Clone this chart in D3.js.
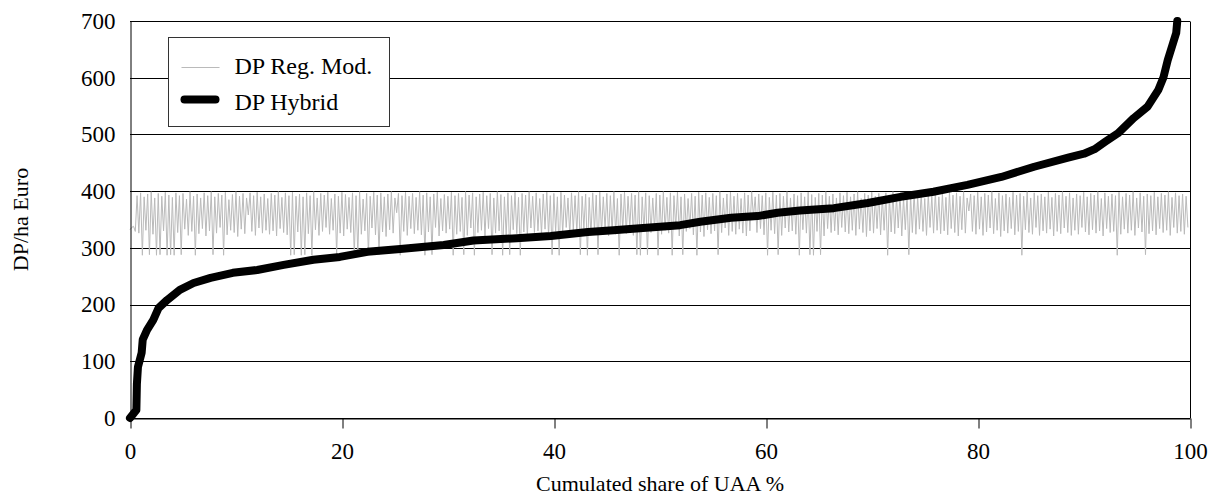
<!DOCTYPE html>
<html>
<head>
<meta charset="utf-8">
<script src="https://cdnjs.cloudflare.com/ajax/libs/d3/7.8.5/d3.min.js"></script>
<style>
body { margin: 0; background: #fff; }
text { font-family: "Liberation Serif", "Times New Roman", serif; fill: #000; }
.tick text { font-size: 23px; }
.label { font-size: 22px; }
.legend text { font-size: 24px; }
</style>
</head>
<body>
<div id="chart"></div>
<script>
// y tick values and x tick values
var yTicks = [0, 100, 200, 300, 400, 500, 600, 700];
var xTicks = [0, 20, 40, 60, 80, 100];

// DP Hybrid (sorted) - cumulated share of UAA % / DP per ha
var hybridX = [0, 0.6, 0.65, 0.75, 1.1, 1.2, 1.6, 2.2, 2.7, 3.5, 4.7, 6.0, 7.6, 9.7, 12.0, 14.5, 17.3, 19.8, 22.4, 25.5,
  29.6, 32.4, 36.5, 39.7, 43.2, 45.6, 48.4, 51.9, 53.8, 56.7, 59.2, 61.1, 63.2, 66.4, 69.6, 72.7, 75.8, 79.0, 82.2, 85.3,
  88.5, 90.0, 91.0, 92.0, 93.2, 94.7, 96.0, 97.0, 97.5, 97.9, 98.4, 98.7, 98.8];
var hybridY = [0, 14, 60, 90, 115, 138, 155, 173, 194, 208, 226, 238, 247, 256, 261, 270, 279, 284, 293, 298,
  305, 313, 317, 321, 328, 331, 335, 340, 346, 353, 356, 362, 366, 370, 379, 390, 399, 411, 425, 443,
  459, 466, 474, 487, 502, 529, 549, 578, 601, 631, 661, 679, 700];

// DP Reg. Mod. - same farms
var regMod = [
  332, 336, 338, 329, 392, 326, 397, 287, 390, 331, 395, 288, 399, 324, 388, 287, 396, 288, 391, 330,
  398, 287, 393, 288, 389, 287, 397, 327, 392, 288, 396, 333, 386, 322, 399, 329, 391, 287, 395, 325,
  388, 334, 397, 321, 392, 330, 399, 288, 390, 326, 396, 336, 393, 287, 398, 323, 385, 331, 394, 327,
  399, 320, 391, 333, 396, 325, 388, 358, 397, 329, 392, 322, 398, 335, 390, 326, 395, 331, 387, 324,
  396, 330, 393, 321, 399, 334, 389, 327, 397, 323, 392, 287, 398, 288, 391, 328, 395, 287, 390, 288,
  397, 325, 392, 287, 399, 332, 388, 322, 396, 329, 393, 336, 398, 324, 387, 331, 395, 288, 391, 326,
  398, 321, 394, 333, 389, 327, 397, 287, 392, 288, 399, 324, 386, 330, 396, 287, 391, 335, 398, 323,
  393, 288, 397, 328, 390, 320, 395, 332, 399, 326, 388, 362, 396, 287, 392, 329, 398, 322, 391, 334,
  396, 325, 389, 331, 399, 323, 393, 287, 397, 328, 390, 288, 395, 336, 398, 321, 387, 330, 394, 326,
  391, 333, 398, 287, 392, 324, 396, 329, 389, 288, 399, 322, 393, 335, 397, 287, 390, 327, 395, 331,
  398, 320, 392, 334, 396, 288, 388, 326, 399, 330, 394, 287, 390, 323, 397, 288, 392, 332, 398, 325,
  389, 287, 396, 328, 393, 321, 399, 335, 391, 327, 397, 330, 387, 324, 395, 333, 398, 322, 392, 288,
  396, 329, 390, 287, 398, 325, 393, 336, 388, 323, 397, 331, 392, 327, 399, 288, 391, 334, 395, 287,
  389, 322, 397, 330, 393, 288, 398, 326, 390, 333, 396, 321, 392, 328, 399, 324, 387, 287, 395, 332,
  398, 325, 391, 335, 396, 322, 393, 288, 399, 287, 390, 330, 397, 288, 392, 327, 388, 333, 396, 287,
  393, 324, 399, 331, 389, 326, 397, 287, 392, 336, 398, 321, 390, 288, 395, 329, 387, 334, 396, 323,
  391, 287, 398, 328, 393, 320, 397, 332, 389, 325, 396, 330, 392, 288, 399, 327, 388, 335, 395, 322,
  398, 329, 391, 324, 396, 333, 387, 326, 397, 321, 393, 330, 399, 355, 390, 327, 395, 334, 392, 323,
  397, 287, 389, 331, 398, 325, 393, 288, 396, 322, 391, 335, 399, 328, 388, 330, 395, 324, 392, 287,
  397, 332, 390, 326, 398, 288, 394, 287, 389, 329, 396, 288, 393, 321, 399, 334, 391, 327, 395, 330,
  388, 323, 397, 336, 392, 328, 398, 325, 390, 331, 395, 322, 399, 333, 387, 327, 396, 320, 393, 330,
  398, 326, 391, 334, 396, 323, 389, 331, 397, 287, 392, 328, 399, 325, 390, 335, 395, 321, 388, 332,
  396, 288, 393, 327, 398, 324, 391, 333, 397, 329, 387, 322, 395, 336, 392, 326, 399, 331, 390, 325,
  396, 330, 389, 323, 398, 334, 393, 327, 397, 321, 391, 332, 399, 326, 388, 365, 395, 329, 392, 324,
  398, 333, 390, 322, 396, 328, 393, 335, 399, 325, 387, 331, 397, 320, 392, 330, 395, 326, 389, 334,
  398, 323, 393, 329, 396, 287, 391, 332, 399, 327, 388, 324, 397, 336, 392, 322, 395, 330, 390, 326,
  398, 333, 389, 321, 396, 329, 393, 325, 399, 335, 391, 327, 397, 322, 388, 331, 395, 324, 392, 336,
  398, 328, 390, 323, 396, 332, 393, 326, 399, 330, 387, 321, 397, 334, 391, 327, 395, 329, 392, 287,
  398, 324, 390, 333, 396, 326, 393, 331, 399, 322, 388, 335, 397, 328, 391, 288, 395, 325, 392, 330,
  398, 323, 390, 334, 396, 327, 393, 331, 399, 322, 389, 336, 397, 326, 392, 329, 395, 324, 391, 336
];
var regStart = 0, regEnd = 99.8;

var legendNames = ["DP Reg. Mod.", "DP Hybrid"];

var margin = {top: 21, bottom: 79, right: 23, left: 130},
    width = 1213 - margin.left - margin.right,
    height = 497 - margin.top - margin.bottom;

var svg = d3.select("#chart")
.append("svg")
.attr("width", 1213)
.attr("height", 497)
.append("g")
.attr("transform", "translate(" + margin.left + "," + margin.top + ")");

var x = d3.scaleLinear()
.domain([0, 100])
.range([0, width]);

var y = d3.scaleLinear()
.domain([0, 700])
.range([height, 0]);

//gridlines
svg.append("g")
.selectAll("line")
.data(yTicks)
.enter()
.append("line")
.attr("x1", 0)
.attr("x2", width)
.attr("y1", function(d){ return Math.round(y(d)) + 0.5; })
.attr("y2", function(d){ return Math.round(y(d)) + 0.5; })
.attr("stroke", "#000")
.attr("stroke-width", 1);

//right border
svg.append("line")
.attr("x1", Math.round(width) + 0.5)
.attr("x2", Math.round(width) + 0.5)
.attr("y1", Math.round(y(700)) + 0.5)
.attr("y2", Math.round(y(0)) + 0.5)
.attr("stroke", "#000");

//grey series
var regData = regMod.map(function(v, i){
  return {x: regStart + i * (regEnd - regStart) / (regMod.length - 1), y: v};
});
svg.append("path")
.datum(regData)
.attr("fill", "none")
.attr("stroke", "#bababa")
.attr("stroke-width", 1)
.attr("d", d3.line().x(function(d){ return x(d.x); }).y(function(d){ return y(d.y); }));

//hybrid series
var hybridData = hybridX.map(function(v, i){ return {x: v, y: hybridY[i]}; });
svg.append("path")
.datum(hybridData)
.attr("fill", "none")
.attr("stroke", "#000")
.attr("stroke-width", 8)
.attr("stroke-linecap", "round")
.attr("stroke-linejoin", "round")
.attr("d", d3.line().x(function(d){ return x(d.x); }).y(function(d){ return y(d.y); }));

//add X
var xAxis = svg.append("g")
.attr("transform", "translate(0," + (Math.round(height) + 0.5) + ")")
.call(d3.axisBottom(x).tickValues(xTicks).tickSize(10).tickPadding(14).tickSizeOuter(0));
xAxis.select(".domain").attr("stroke", "#000");
xAxis.selectAll("line").attr("stroke", "#000").attr("transform", "translate(0.5,0)");
xAxis.selectAll("text").style("font-family", "Liberation Serif").attr("font-size", null);

//add y
var yAxis = svg.append("g")
.attr("transform", "translate(0.5,0)")
.call(d3.axisLeft(y).tickValues(yTicks).tickSize(0).tickPadding(15).tickSizeOuter(0));
yAxis.select(".domain").attr("stroke", "#000");
yAxis.selectAll("text").style("font-family", "Liberation Serif").attr("font-size", null);

//axis titles
var labels = d3.select("svg")
.append("g")
.classed("labels", true);

labels.append("text")
.text("Cumulated share of UAA %")
.classed("label", true)
.attr("text-anchor", "middle")
.attr("x", margin.left + width / 2)
.attr("y", 491);

labels.append("g")
.attr("transform", "translate(28," + (margin.top + height / 2) + ")")
.append("text")
.text("DP/ha Euro")
.classed("label", true)
.attr("text-anchor", "middle")
.attr("transform", "rotate(-90)");

//legend
var legend = d3.select("svg")
.append("g")
.classed("legend", true)
.attr("transform", "translate(168.5,37.5)");

legend.append("rect")
.attr("width", 221)
.attr("height", 89)
.attr("fill", "#fff")
.attr("stroke", "#333");

legend.append("line")
.attr("x1", 13).attr("x2", 51)
.attr("y1", 30).attr("y2", 30)
.attr("stroke", "#bababa")
.attr("stroke-width", 1.2);

legend.append("line")
.attr("x1", 16).attr("x2", 47)
.attr("y1", 62).attr("y2", 62)
.attr("stroke", "#000")
.attr("stroke-width", 8)
.attr("stroke-linecap", "round");

legend.selectAll("text.name")
.data(legendNames)
.enter()
.append("text")
.attr("class", "name")
.attr("x", 66)
.attr("y", function(d, i){ return 36 + i * 36; })
.text(function(d){ return d; });
</script>
</body>
</html>
